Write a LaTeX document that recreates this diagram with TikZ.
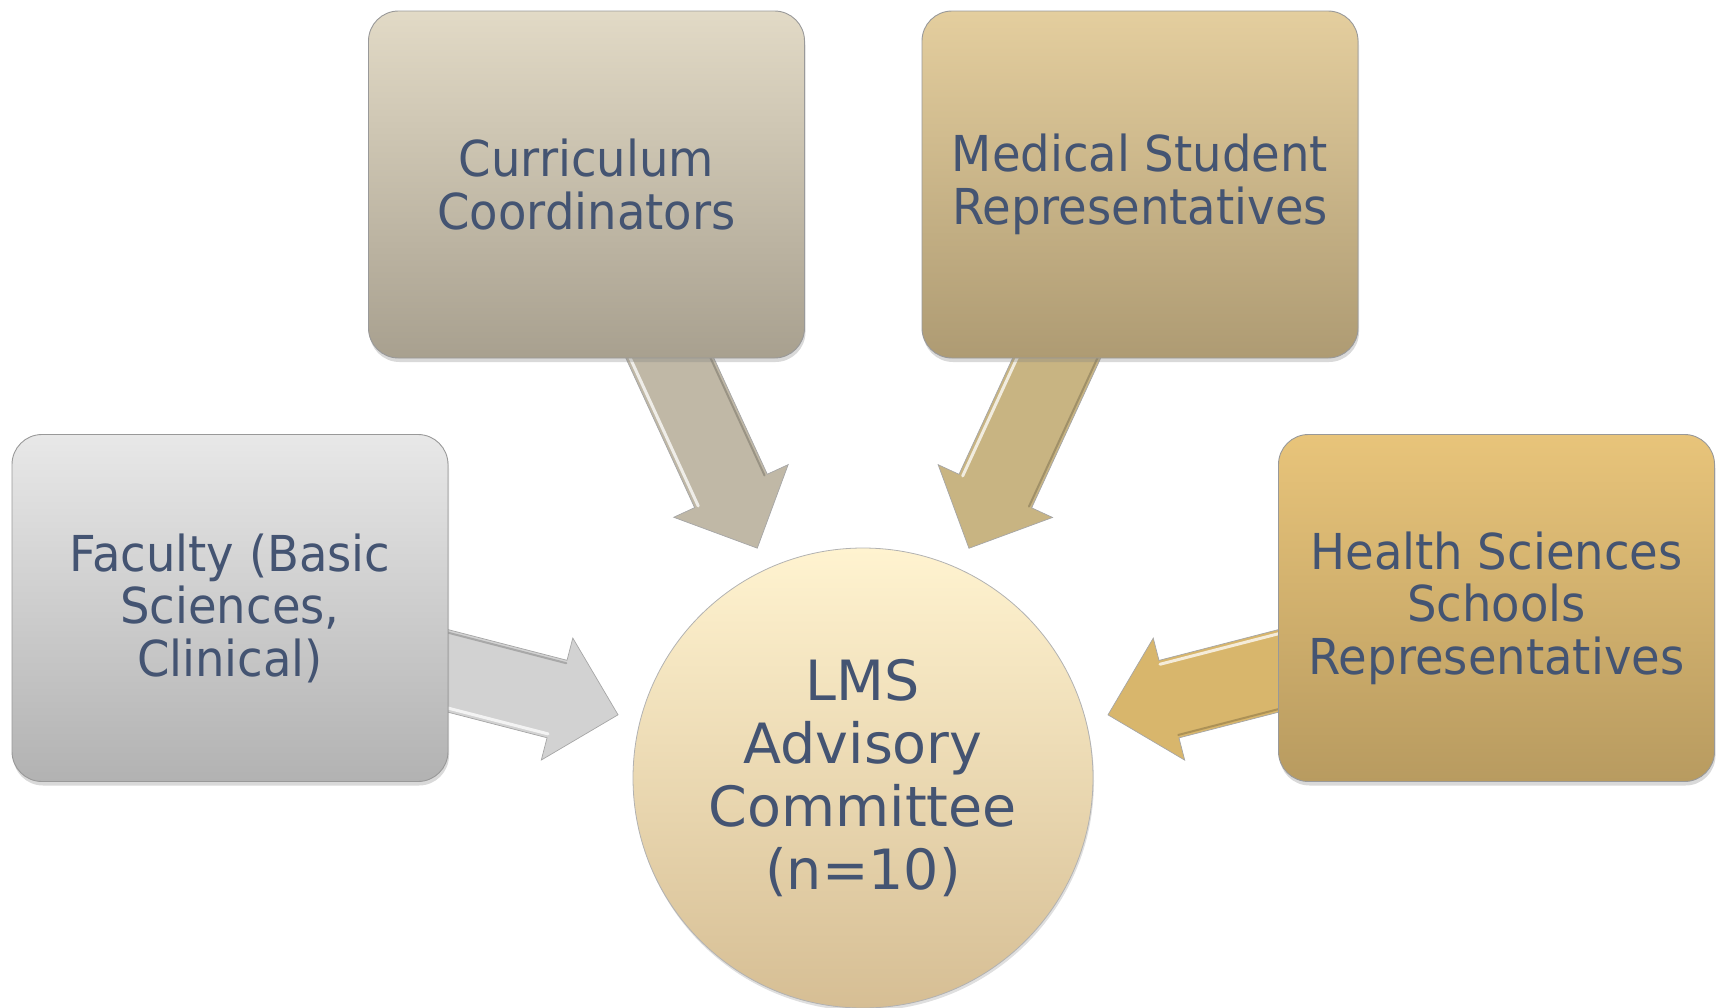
\documentclass[tikz,border=0pt]{standalone}
\usepackage{fontspec}
\usetikzlibrary{calc,shadows,backgrounds}
\newfontfamily\panelfont{DejaVu Sans}[FakeStretch=0.94]
\newfontfamily\hubfont{DejaVu Sans}

\definecolor{txt}{RGB}{68,84,114}
% panel gradients
\definecolor{facTop}{RGB}{232,232,232}\definecolor{facBot}{RGB}{178,178,178}
\definecolor{curTop}{RGB}{226,218,198}\definecolor{curBot}{RGB}{168,160,143}
\definecolor{medTop}{RGB}{228,206,158}\definecolor{medBot}{RGB}{174,155,115}
\definecolor{heaTop}{RGB}{232,196,122}\definecolor{heaBot}{RGB}{184,155,96}
\definecolor{hubTop}{RGB}{255,243,208}\definecolor{hubBot}{RGB}{214,190,148}
% arrow bodies
\definecolor{facArr}{RGB}{210,210,210}
\definecolor{curArr}{RGB}{192,184,166}
\definecolor{medArr}{RGB}{200,180,130}
\definecolor{heaArr}{RGB}{216,182,108}

\tikzset{
  panel/.style={rectangle, rounded corners=30pt, minimum width=436pt,
    minimum height=347pt, align=center, text=txt, inner sep=0pt,
    font=\panelfont\fontsize{49.5}{52.5}\selectfont,
    draw=black!40, line width=0.9pt,
    drop shadow={shadow xshift=1pt, shadow yshift=-4pt, opacity=0.3}},
  hub/.style={circle, minimum size=460pt, inner sep=0pt, align=center,
    text=txt, font=\hubfont\fontsize{55.5}{63}\selectfont,
    draw=black!30, line width=0.8pt,
    top color=hubTop, bottom color=hubBot,
    drop shadow={shadow xshift=1pt, shadow yshift=-3pt, opacity=0.25}},
  arrowbody/.style={fill=#1, draw=black!35, line width=0.7pt, line join=miter},
  arrowlit/.style={draw=white, opacity=0.75, line width=3pt, line cap=round},
  arrowdark/.style={draw=black, opacity=0.2, line width=2pt, line cap=round}
}

% block arrow from #1 to tip #2, body colour #3
\newcommand\blockarrow[3]{%
  \coordinate (ba-b) at ($(#2)!63pt!(#1)$);
  \path[arrowbody=#3]
    ($(#1)!40pt!90:(#2)$) -- ($(ba-b)!40pt!90:(#2)$) -- ($(ba-b)!63pt!90:(#2)$)
    -- (#2) -- ($(ba-b)!63pt!-90:(#2)$) -- ($(ba-b)!40pt!-90:(#2)$)
    -- ($(#1)!40pt!-90:(#2)$) -- cycle;
  \path[arrowlit] ($(#1)!36pt!-90:(#2)$) -- ($(ba-b)!36pt!-90:(#2)$);
  \path[arrowdark] ($(#1)!37pt!90:(#2)$) -- ($(ba-b)!37pt!90:(#2)$);
}

\begin{document}
\begin{tikzpicture}[x=1pt,y=-1pt]
  \useasboundingbox (0,0) rectangle (1719,1007);

  \node[hub] (hub) at (863,778) {LMS\\Advisory\\Committee\\(n=10)};

  \node[panel, top color=curTop, bottom color=curBot] (cur) at (586.5,184.5)
    {Curriculum\\Coordinators};
  \node[panel, top color=medTop, bottom color=medBot] (med) at (1140,184.5)
    {Medical Student\\Representatives};
  \node[panel, top color=facTop, bottom color=facBot] (fac) at (230,608)
    {Faculty (Basic\\Sciences,\\Clinical)};
  \node[panel, top color=heaTop, bottom color=heaBot] (hea) at (1496.5,608)
    {Health Sciences\\Schools\\Representatives};

  % exit points of the arrows on the panel borders
  \coordinate (cur-out) at ($(cur.south)+(83.5,0)$);
  \coordinate (med-out) at ($(med.south)+(-83.5,0)$);
  \coordinate (fac-out) at ($(fac.east)+(0,63)$);
  \coordinate (hea-out) at ($(hea.west)+(0,63)$);

  \foreach \p in {cur,med,fac,hea}{
    \coordinate (\p-start) at ($(hub.center)!1.35!(\p-out)$);
    \coordinate (\p-tip) at ($(hub.center)!253pt!(\p-out)$);
  }

  \begin{scope}[on background layer]
    \blockarrow{cur-start}{cur-tip}{curArr}
    \blockarrow{med-start}{med-tip}{medArr}
    \blockarrow{fac-start}{fac-tip}{facArr}
    \blockarrow{hea-start}{hea-tip}{heaArr}
  \end{scope}
\end{tikzpicture}
\end{document}
